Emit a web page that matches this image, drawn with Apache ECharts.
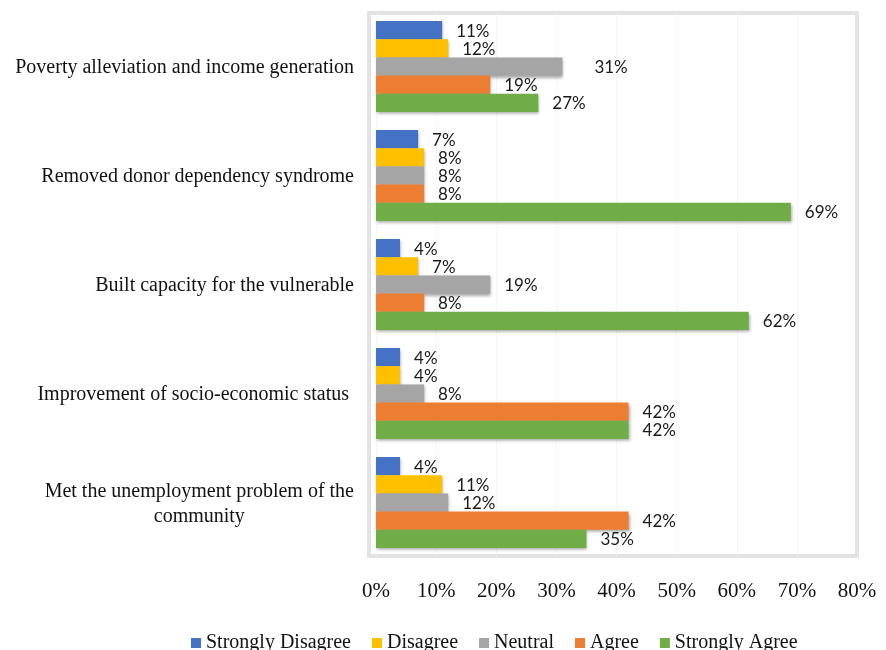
<!DOCTYPE html>
<html>
<head>
<meta charset="utf-8">
<script src="https://cdn.jsdelivr.net/npm/echarts@6/dist/echarts.min.js"></script>
<style>
  html, body { margin: 0; padding: 0; background: #fff; }
  #chart { width: 886px; height: 650px; }
</style>
</head>
<body>
<div id="chart"></div>
<script>
// Survey statements (top to bottom)
const categories = [
  'Poverty alleviation and income generation',
  'Removed donor dependency syndrome',
  'Built capacity for the vulnerable',
  'Improvement of socio-economic status ',
  'Met the unemployment problem of the community'
];

// Share of respondents per answer, in percent
const stronglyDisagree = [11, 7, 4, 4, 4];
const disagree         = [12, 8, 7, 4, 11];
const neutral          = [31, 8, 19, 8, 12];
const agree            = [19, 8, 8, 42, 42];
const stronglyAgree    = [27, 69, 62, 42, 35];

const seriesNames  = ['Strongly Disagree', 'Disagree', 'Neutral', 'Agree', 'Strongly Agree'];
const seriesColors = ['#4472C4', '#FFC000', '#A5A5A5', '#ED7D31', '#70AD47'];
const seriesValues = [stronglyDisagree, disagree, neutral, agree, stronglyAgree];

const xTicks = [0, 10, 20, 30, 40, 50, 60, 70, 80];

const serif = '"Liberation Serif", "Times New Roman", serif';
const sans = 'Lato, "Open Sans", sans-serif';

// the neutral label of the first statement sits a little further out
const labelDistance = { '2-0': 32 };

const chart = echarts.init(document.getElementById('chart'), null, { renderer: 'canvas' });

const series = seriesValues.map((vals, si) => ({
  name: seriesNames[si],
  type: 'bar',
  barGap: '0%',
  barCategoryGap: '16.5%',
  itemStyle: {
    color: seriesColors[si],
    shadowColor: 'rgba(0,0,0,0.35)',
    shadowBlur: 3,
    shadowOffsetX: 1,
    shadowOffsetY: 2
  },
  label: {
    show: true,
    position: 'right',
    distance: 14,
    offset: [0, 1],
    formatter: p => p.value + '%',
    fontFamily: sans,
    fontSize: 17,
    color: '#1a1a1a'
  },
  data: vals.map((v, ci) => {
    const d = labelDistance[si + '-' + ci];
    return d ? { value: v, label: { distance: d } } : v;
  })
}));

chart.setOption({
  animation: false,
  backgroundColor: '#fff',
  color: seriesColors,
  grid: { left: 376, right: 29, top: 12, bottom: 93, containLabel: false },
  graphic: [{
    type: 'rect',
    z: -1,
    shape: { x: 369, y: 13, width: 488, height: 543 },
    style: { fill: 'none', stroke: '#e3e3e3', lineWidth: 4 }
  }],
  legend: {
    data: seriesNames,
    left: 186,
    top: 628,
    icon: 'rect',
    itemWidth: 10,
    itemHeight: 10,
    itemGap: 21,
    textStyle: { fontFamily: serif, fontSize: 20, color: '#111' }
  },
  xAxis: {
    type: 'value',
    min: xTicks[0],
    max: xTicks[xTicks.length - 1],
    interval: 10,
    axisLine: { show: false },
    axisTick: { show: false },
    splitLine: { show: true, lineStyle: { color: '#ededed', type: 'dotted', width: 1 } },
    axisLabel: {
      margin: 24,
      formatter: v => v + '%',
      fontFamily: serif,
      fontSize: 21,
      color: '#111'
    }
  },
  yAxis: {
    type: 'category',
    inverse: true,
    data: categories,
    axisLine: { show: false },
    axisTick: { show: false },
    axisLabel: {
      margin: 22,
      fontFamily: serif,
      fontSize: 20,
      color: '#111',
      formatter: v => {
        if (v.indexOf('unemployment') >= 0) {
          return '{c|Met the unemployment problem of the}\n{c|community}';
        }
        return '{c|' + v + '}';
      },
      rich: {
        c: { align: 'center', fontFamily: serif, fontSize: 20, color: '#111', lineHeight: 25, padding: [3, 0, 0, 0] }
      }
    }
  },
  series: series
});
</script>
</body>
</html>
